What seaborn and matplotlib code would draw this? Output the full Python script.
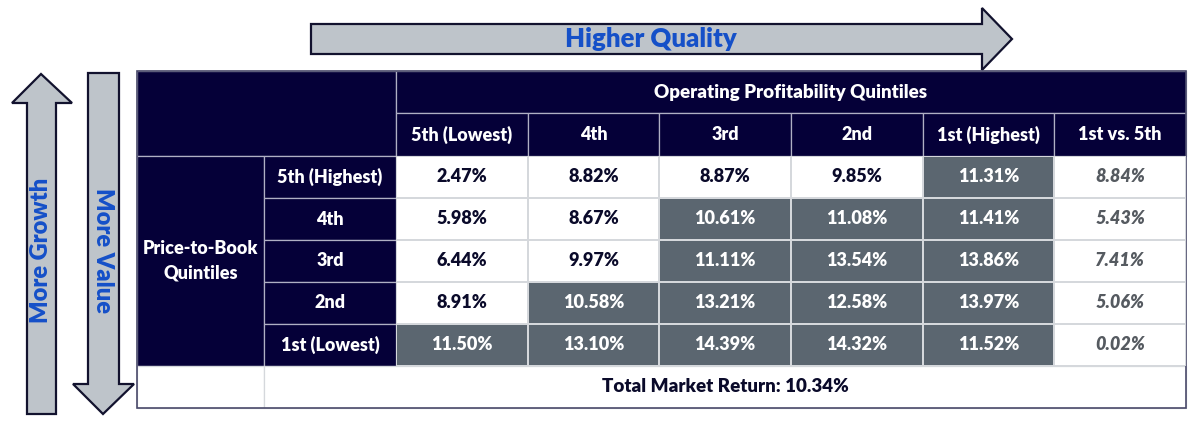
import numpy as np
import matplotlib
matplotlib.use("Agg")
import matplotlib.pyplot as plt
from matplotlib.patches import Rectangle, Polygon
from matplotlib.colors import ListedColormap
import seaborn as sns

pb_rows = ["5th (Highest)", "4th", "3rd", "2nd", "1st (Lowest)"]
op_cols = ["5th (Lowest)", "4th", "3rd", "2nd", "1st (Highest)"]
spread_label = "1st vs. 5th"
returns = [
    [2.47, 8.82, 8.87, 9.85, 11.31],
    [5.98, 8.67, 10.61, 11.08, 11.41],
    [6.44, 9.97, 11.11, 13.54, 13.86],
    [8.91, 10.58, 13.21, 12.58, 13.97],
    [11.50, 13.10, 14.39, 14.32, 11.52],
]
spread = [8.84, 5.43, 7.41, 5.06, 0.02]
market_return = 10.34

NAVY = "#050038"
GRAY = "#5b6670"
ARROW = "#bec4ca"
BLUE = "#1550c8"
HLINE = "#b0b0c4"
DARK = "#0a0a2a"
WEIGHT = "heavy"

sns.set_theme(style="white")
plt.rcParams["font.family"] = "Lato"

W, H = 1200, 425
fig = plt.figure(figsize=(12, 4.25), dpi=100)
ax = fig.add_axes([0, 0, 1, 1])
ax.set_xlim(0, W)
ax.set_ylim(H, 0)
ax.axis("off")

# table geometry (pixels)
x_edges = [137, 264, 396] + list(np.linspace(396, 1186, 7)[1:])
y_top, y_h1, y_h2 = 71, 113, 156
row_h = 42
y_data_end = y_h2 + row_h * len(pb_rows)
y_bottom = y_data_end + 42


def cell(x0, y0, x1, y1, fc, ec=HLINE, lw=0.9):
    ax.add_patch(Rectangle((x0, y0), x1 - x0, y1 - y0, facecolor=fc,
                           edgecolor=ec, linewidth=lw, zorder=2))


def label(x, y, s, color="white", size=13, **kw):
    ax.text(x, y, s, ha="center", va="center", color=color, fontsize=size,
            family="Lato", fontweight=WEIGHT, zorder=5, **kw)


# header blocks
cell(x_edges[0], y_top, x_edges[2], y_h2, NAVY)
cell(x_edges[2], y_top, x_edges[-1], y_h1, NAVY)
label((x_edges[2] + x_edges[-1]) / 2, (y_top + y_h1) / 2,
      "Operating Profitability Quintiles", size=13.5)
for i, name in enumerate(op_cols + [spread_label]):
    cell(x_edges[i + 2], y_h1, x_edges[i + 3], y_h2, NAVY)
    label((x_edges[i + 2] + x_edges[i + 3]) / 2, (y_h1 + y_h2) / 2, name)

cell(x_edges[0], y_h2, x_edges[1], y_data_end, NAVY)
label((x_edges[0] + x_edges[1]) / 2, (y_h2 + y_data_end) / 2,
      "Price-to-Book\nQuintiles", linespacing=1.5)
for j, name in enumerate(pb_rows):
    y0 = y_h2 + j * row_h
    cell(x_edges[1], y0, x_edges[2], y0 + row_h, NAVY)
    label((x_edges[1] + x_edges[2]) / 2, y0 + row_h / 2, name)

# total market row
cell(x_edges[0], y_data_end, x_edges[1], y_bottom, "white", ec="#d5d8dc")
cell(x_edges[1], y_data_end, x_edges[-1], y_bottom, "white", ec="#d5d8dc")
label((x_edges[1] + x_edges[-1]) / 2, (y_data_end + y_bottom) / 2,
      f"Total Market Return: {market_return:.2f}%", color=DARK, size=13.5)

# data cells via seaborn heatmap: gray where return beats the market
vals = np.array(returns)
shade = np.column_stack([(vals > market_return).astype(float),
                         np.zeros(len(spread))])
annot = np.column_stack([np.vectorize(lambda v: f"{v:.2f}%")(vals),
                         [f"{v:.2f}%" for v in spread]])
hax = fig.add_axes([x_edges[2] / W, 1 - y_data_end / H,
                    (x_edges[-1] - x_edges[2]) / W, (y_data_end - y_h2) / H])
sns.heatmap(shade, ax=hax, cmap=ListedColormap(["white", GRAY]), vmin=0, vmax=1,
            cbar=False, annot=annot, fmt="", linewidths=1.2, linecolor="#d5d8dc",
            xticklabels=False, yticklabels=False,
            annot_kws={"fontsize": 13, "fontweight": WEIGHT, "family": "Lato"})
ncol = shade.shape[1]
for k, t in enumerate(hax.texts):
    r, c = divmod(k, ncol)
    if c == ncol - 1:
        t.set_color("#555a60")
        t.set_fontstyle("italic")
    elif shade[r, c] > 0:
        t.set_color("white")
    else:
        t.set_color(DARK)
hax.axis("off")

# outer border
ax.add_patch(Rectangle((x_edges[0], y_top), x_edges[-1] - x_edges[0],
                       y_bottom - y_top, fill=False, edgecolor="#4a4a6a",
                       linewidth=1.2, zorder=6))

# arrows
arrow_kw = dict(facecolor=ARROW, edgecolor="#12122e", linewidth=1.6,
                joinstyle="miter", zorder=3)
ax.add_patch(Polygon([(311, 24), (982, 24), (982, 8), (1012, 39), (982, 70),
                      (982, 54), (311, 54)], closed=True, **arrow_kw))
ax.text(651, 39, "Higher Quality", ha="center", va="center", color=BLUE,
        fontsize=18.5, family="Lato", fontweight=WEIGHT, zorder=5)

ax.add_patch(Polygon([(27, 414), (27, 103), (12, 103), (41, 74), (72, 103),
                      (56, 103), (56, 414)], closed=True, **arrow_kw))
ax.text(41, 250, "More Growth", ha="center", va="center", color=BLUE,
        fontsize=17, family="Lato", fontweight=WEIGHT, rotation=90, zorder=5)

ax.add_patch(Polygon([(88, 73), (119, 73), (119, 384), (134, 384), (103, 414),
                      (73, 384), (88, 384)], closed=True, **arrow_kw))
ax.text(103, 250, "More Value", ha="center", va="center", color=BLUE,
        fontsize=17, family="Lato", fontweight=WEIGHT, rotation=-90, zorder=5)

fig.savefig("out.png", dpi=100)
